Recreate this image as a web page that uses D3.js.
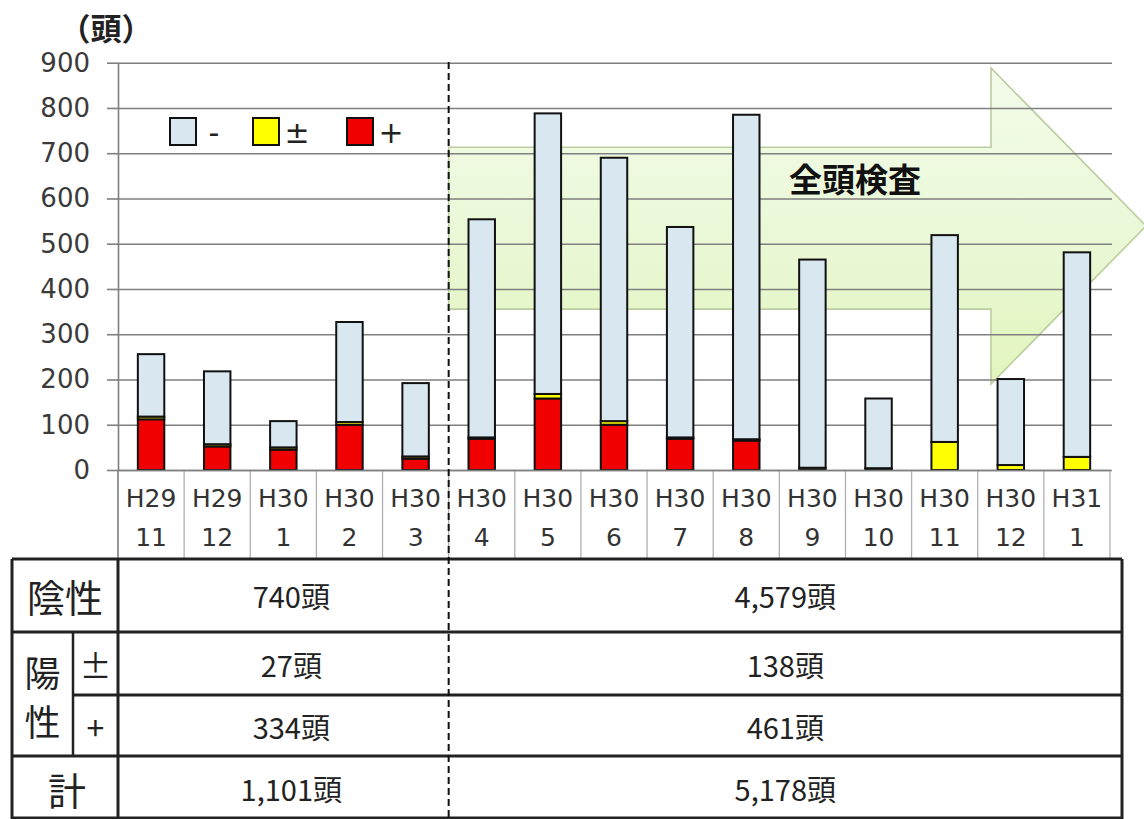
<!DOCTYPE html>
<html lang="ja">
<head>
<meta charset="utf-8">
<script src="https://cdn.jsdelivr.net/npm/d3@7"></script>
<style>
  html, body { margin: 0; padding: 0; background: #fff; }
  svg { display: block; }
  text { font-family: "DejaVu Sans", Verdana, sans-serif; }
  .jp { font-family: "Noto Sans CJK JP", "Noto Sans", sans-serif; }
</style>
</head>
<body>
<svg id="chart" width="1144" height="819"></svg>
<script>
// Monthly inspection counts (頭), split by result
const eraLabels   = ["H29","H29","H30","H30","H30","H30","H30","H30","H30","H30","H30","H30","H30","H30","H31"];
const monthLabels = ["11","12","1","2","3","4","5","6","7","8","9","10","11","12","1"];
const negative    = [138,161,58,221,162, 482,620,582,465,717,460,154,457,190,452]; // -
const equivocal   = [6,5,5,6,5, 3,10,8,3,3,5,4,62,11,29];                          // ±
const positive    = [112,52,45,100,25, 69,158,100,69,65,0,0,0,0,0];                 // +
const yTicks      = [0,100,200,300,400,500,600,700,800,900];
const seriesKeys  = ["pos","eq","neg"];
const legendItems = [["neg","-"],["eq","±"],["pos","+"]];
const periodSplit = 5;   // 全頭検査 starts with the 6th month

const colors = { neg: "#d9e7f1", eq: "#ffff00", pos: "#f00000" };

const svg = d3.select("#chart");
const keys = eraLabels.map((e, i) => e + "-" + monthLabels[i] + "-" + i);
const rows = keys.map((k, i) => ({ key: k, pos: positive[i], eq: equivocal[i], neg: negative[i] }));

const x = d3.scaleBand().domain(keys).range([118, 1110]).paddingInner(0.6).paddingOuter(0.3);
const xEdge = d3.scaleLinear().domain([0, keys.length]).range([118, 1110]);
const y = d3.scaleLinear().domain([0, 900]).range([470, 62.7]);

// ---- Arrow behind the grid ----
const defs = svg.append("defs");
const grad = defs.append("linearGradient").attr("id", "arrowFill")
  .attr("x1", 0).attr("y1", 0).attr("x2", 0).attr("y2", 1);
grad.append("stop").attr("offset", "0%").attr("stop-color", "#f3fbea");
grad.append("stop").attr("offset", "55%").attr("stop-color", "#eaf8d6");
grad.append("stop").attr("offset", "100%").attr("stop-color", "#e2f5bd");

const shaftTop = y(700) - 6, shaftBot = y(360) + 2;
const headL = 991, headTop = 68, headBot = 384, tipX = 1146, tipY = (68 + 384) / 2;
const arrowPath = d3.path();
arrowPath.moveTo(xEdge(periodSplit), shaftTop);
arrowPath.lineTo(headL, shaftTop);
arrowPath.lineTo(headL, headTop);
arrowPath.lineTo(tipX, tipY);
arrowPath.lineTo(headL, headBot);
arrowPath.lineTo(headL, shaftBot);
arrowPath.lineTo(xEdge(periodSplit), shaftBot);
arrowPath.closePath();
svg.append("path").attr("d", arrowPath.toString())
  .attr("fill", "url(#arrowFill)").attr("stroke", "#bccd9f").attr("stroke-width", 1.6);

// ---- Gridlines and y axis ----
const grid = svg.append("g").attr("transform", "translate(118,0)")
  .call(d3.axisLeft(y).tickValues(yTicks).tickSize(-994).tickFormat(""));
grid.select(".domain").remove();
grid.selectAll(".tick line").attr("stroke", "#7f7f7f").attr("stroke-width", 1.6);

const yAxis = svg.append("g").attr("transform", "translate(118,0)")
  .call(d3.axisLeft(y).tickValues(yTicks).tickSize(11).tickPadding(17).tickSizeOuter(0));
yAxis.select(".domain").attr("stroke", "#7f7f7f").attr("stroke-width", 1.6);
yAxis.selectAll(".tick line").attr("stroke", "#7f7f7f").attr("stroke-width", 1.6);
yAxis.selectAll(".tick text").attr("font-size", 26).attr("fill", "#3a3a3a");

svg.append("text").attr("class", "jp").attr("x", 106).attr("y", 40)
  .attr("text-anchor", "middle").attr("font-size", 31).attr("font-weight", 700)
  .attr("fill", "#222").text("（頭）");

svg.append("text").attr("class", "jp").attr("x", 855).attr("y", 192)
  .attr("text-anchor", "middle").attr("font-size", 33).attr("font-weight", 700)
  .attr("fill", "#111").text("全頭検査");

// ---- Stacked bars ----
const stack = d3.stack().keys(seriesKeys)(rows);
svg.append("g").selectAll("g").data(stack).join("g")
  .attr("fill", d => colors[d.key])
  .selectAll("rect").data(d => d).join("rect")
    .attr("x", d => x(d.data.key))
    .attr("width", x.bandwidth())
    .attr("y", d => y(d[1]))
    .attr("height", d => y(d[0]) - y(d[1]))
    .attr("stroke", d => (d[1] - d[0]) > 0 ? "#111" : "none")
    .attr("stroke-width", 2);

// ---- Legend ----
const legend = svg.append("g");
const legendX = [170, 253, 347];
legendItems.forEach(([k, label], i) => {
  legend.append("rect").attr("x", legendX[i]).attr("y", 118).attr("width", 26).attr("height", 27)
    .attr("fill", colors[k]).attr("stroke", "#111").attr("stroke-width", 2);
  legend.append("text").attr("x", legendX[i] + 44).attr("y", 143)
    .attr("font-size", 30).attr("fill", "#222")
    .attr("text-anchor", "middle").text(label);
});

// ---- Category label cells ----
const cat = svg.append("g");
d3.range(keys.length + 1).forEach(i => {
  cat.append("line").attr("x1", xEdge(i)).attr("x2", xEdge(i)).attr("y1", 470).attr("y2", 558)
    .attr("stroke", i === 0 ? "#7f7f7f" : "#b0b0b0").attr("stroke-width", i === 0 ? 1.6 : 1.3);
});
const xAxis = svg.append("g").attr("transform", "translate(0,470)")
  .call(d3.axisBottom(x).tickSize(0).tickFormat(""));
xAxis.select(".domain").attr("stroke", "#7f7f7f").attr("stroke-width", 1.6);
keys.forEach((k, i) => {
  const cx = x(k) + x.bandwidth() / 2;
  cat.append("text").attr("x", cx).attr("y", 507).attr("text-anchor", "middle")
    .attr("font-size", 25).attr("fill", "#333").text(eraLabels[i]);
  cat.append("text").attr("x", cx).attr("y", 546).attr("text-anchor", "middle")
    .attr("font-size", 25).attr("fill", "#333").text(monthLabels[i]);
});

// ---- Summary table ----
const sum = (arr, a, b) => d3.sum(arr.slice(a, b));
const fmt = d3.format(",");
const n = keys.length;
const tableRows = [
  [sum(negative, 0, periodSplit), sum(negative, periodSplit, n)],
  [sum(equivocal, 0, periodSplit), sum(equivocal, periodSplit, n)],
  [sum(positive, 0, periodSplit), sum(positive, periodSplit, n)]
];
tableRows.push([tableRows[0][0] + tableRows[1][0] + tableRows[2][0],
                tableRows[0][1] + tableRows[1][1] + tableRows[2][1]]);

const T = { left: 12, mid: 73, col: 118, split: xEdge(periodSplit), right: 1122,
            rows: [559, 632, 695, 756, 819] };
const tbl = svg.append("g");
const line = (x1, y1, x2, y2, w) => tbl.append("line")
  .attr("x1", x1).attr("y1", y1).attr("x2", x2).attr("y2", y2)
  .attr("stroke", "#222").attr("stroke-width", w || 3);
line(T.left, T.rows[0], T.right, T.rows[0]);
line(T.left, T.rows[1], T.right, T.rows[1]);
line(T.mid, T.rows[2], T.right, T.rows[2]);
line(T.left, T.rows[3], T.right, T.rows[3]);
line(T.left, T.rows[4] - 1, T.right, T.rows[4] - 1);
line(T.left, T.rows[0], T.left, T.rows[4]);
line(T.col, T.rows[0], T.col, T.rows[4]);
line(T.mid, T.rows[1], T.mid, T.rows[3], 2.5);
line(T.right, T.rows[0], T.right, T.rows[4]);

const jpText = (tx, ty, s, size) => tbl.append("text").attr("class", "jp")
  .attr("x", tx).attr("y", ty).attr("text-anchor", "middle")
  .attr("dominant-baseline", "central").attr("font-size", size).attr("fill", "#222").text(s);
jpText((T.left + T.col) / 2, 595, "陰性", 38);
jpText((T.left + T.mid) / 2, 671, "陽", 36);
jpText((T.left + T.mid) / 2, 720, "性", 36);
jpText((T.mid + T.col) / 2, 664, "±", 32);
jpText((T.mid + T.col) / 2, 726, "+", 32);
jpText((T.left + T.col) / 2 + 2, 788, "計", 38);

const rowMid = [595, 664, 726, 788];
tableRows.forEach((r, i) => {
  jpText((T.col + T.split) / 2 + 8, rowMid[i], fmt(r[0]) + "頭", 29);
  jpText((T.split + T.right) / 2, rowMid[i], fmt(r[1]) + "頭", 29);
});

// ---- Period divider ----
svg.append("line").attr("x1", T.split).attr("x2", T.split).attr("y1", 62).attr("y2", 819)
  .attr("stroke", "#111").attr("stroke-width", 2).attr("stroke-dasharray", "7,4");
</script>
</body>
</html>
